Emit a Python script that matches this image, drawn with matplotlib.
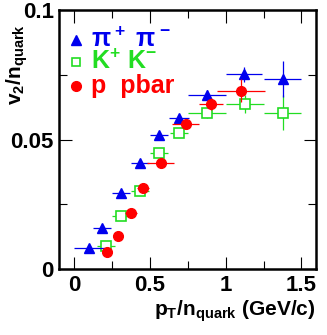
import numpy
import matplotlib

matplotlib.use("AGG")
from matplotlib import pyplot
from matplotlib.ticker import MultipleLocator, FuncFormatter

# pi+ pi-
pi_x = [0.10, 0.185, 0.31, 0.435, 0.56, 0.69, 0.875, 1.12, 1.375]
pi_xerr = [0.10, 0.06, 0.06, 0.06, 0.06, 0.065, 0.125, 0.12, 0.125]
pi_y = [0.0082, 0.016, 0.0293, 0.0409, 0.0516, 0.0582, 0.0673, 0.0752, 0.0733]
pi_yerr = [0.0006, 0.0006, 0.0007, 0.0008, 0.0009, 0.0012, 0.0018, 0.0028, 0.007]

# K+ K-
k_x = [0.21, 0.31, 0.435, 0.56, 0.69, 0.875, 1.125, 1.375]
k_xerr = [0.06, 0.06, 0.06, 0.06, 0.06, 0.125, 0.125, 0.125]
k_y = [0.0089, 0.0204, 0.0300, 0.0449, 0.0526, 0.0602, 0.0638, 0.0603]
k_yerr = [0.0006, 0.0007, 0.0008, 0.0009, 0.0011, 0.0018, 0.0035, 0.0068]

# p pbar
p_x = [0.215, 0.29, 0.373, 0.456, 0.57, 0.735, 0.9, 1.1]
p_xerr = [0.03, 0.03, 0.04, 0.04, 0.09, 0.09, 0.08, 0.16]
p_y = [0.0066, 0.0127, 0.0217, 0.0314, 0.0411, 0.0561, 0.0637, 0.0689]
p_yerr = [0.0006, 0.0007, 0.0008, 0.0009, 0.0011, 0.0015, 0.0022, 0.0045]

blue = "#0000ee"
green = "#22dd22"
red = "#ff0000"

pyplot.rcParams["font.family"] = ["Liberation Sans", "DejaVu Sans"]
pyplot.rcParams["font.weight"] = "bold"
pyplot.rcParams["mathtext.fontset"] = "custom"
pyplot.rcParams["mathtext.rm"] = "Liberation Sans:bold"
pyplot.rcParams["mathtext.it"] = "Liberation Sans:bold"
pyplot.rcParams["mathtext.bf"] = "Liberation Sans:bold"

fig = pyplot.figure(figsize=(3.27, 3.35), dpi=100)
ax = fig.add_axes([0.181, 0.197, 0.785, 0.773])

ax.errorbar(pi_x, pi_y, xerr=pi_xerr, yerr=pi_yerr, fmt="^", color=blue,
            ms=6.5, elinewidth=0.9, capsize=0, zorder=3)
ax.errorbar(k_x, k_y, xerr=k_xerr, yerr=k_yerr, fmt="s", color=green,
            mfc="white", mec=green, mew=1.2, ms=6.5, elinewidth=0.9, capsize=0, zorder=2)
ax.errorbar(p_x, p_y, xerr=p_xerr, yerr=p_yerr, fmt="o", color=red,
            ms=7, elinewidth=0.9, capsize=0, zorder=4)

ax.set_xlim(-0.1, 1.595)
ax.set_ylim(0, 0.1)
ax.xaxis.set_major_locator(MultipleLocator(0.5))
ax.xaxis.set_minor_locator(MultipleLocator(0.25))
ax.yaxis.set_major_locator(MultipleLocator(0.05))
ax.yaxis.set_minor_locator(MultipleLocator(0.025))
ax.xaxis.set_major_formatter(FuncFormatter(lambda v, p: "%g" % v))
ax.yaxis.set_major_formatter(FuncFormatter(lambda v, p: "%g" % round(v, 3)))
ax.tick_params(which="both", direction="in", top=True, right=True, width=0.8,
               labelsize=16, pad=4)
ax.tick_params(which="major", length=9)
ax.tick_params(which="minor", length=6)
for s in ax.spines.values():
    s.set_linewidth(1.8)

ax.set_xlabel(r"p$_\mathregular{T}$/n$_\mathregular{quark}$ (GeV/c)", fontsize=15,
              fontweight="bold", loc="right", labelpad=2)
ax.set_ylabel(r"v$_\mathregular{2}$/n$_\mathregular{quark}$", fontsize=15,
              fontweight="bold")
ax.yaxis.set_label_coords(-0.115, 0.79)

# legend
tr = ax.transAxes
ax.plot([0.065], [0.885], "^", color=blue, ms=6.5, transform=tr)
ax.text(0.125, 0.885, r"$\pi^+\ \pi^-$", color=blue, fontsize=18,
        transform=tr, va="center", family="DejaVu Serif")
ax.plot([0.065], [0.80], "s", mfc="white", mec=green, mew=1.2, ms=6, transform=tr)
ax.text(0.125, 0.80, r"K$^\mathregular{+}$ K$^\mathregular{-}$", color=green,
        fontsize=18, transform=tr, va="center", fontweight="bold")
ax.plot([0.065], [0.705], "o", color=red, ms=7, transform=tr)
ax.text(0.125, 0.705, "p  pbar", color=red, fontsize=18, transform=tr,
        va="center", fontweight="bold")

pyplot.savefig("out.png", dpi=100)
pyplot.close()
